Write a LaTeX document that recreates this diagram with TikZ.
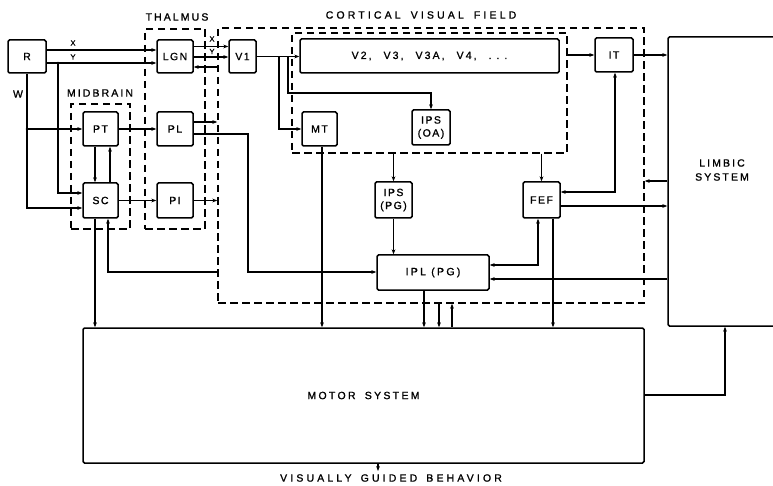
\documentclass[tikz,border=0pt]{standalone}
\usepackage{fontspec}
\setmainfont{Liberation Sans}[LetterSpace=14, FakeBold=1.2]
\usetikzlibrary{arrows.meta,calc}
\begin{document}
\begin{tikzpicture}[x=1pt,y=-1pt,
  blk/.style={draw, line width=1.5pt, rounded corners=1.5pt, inner sep=0pt, align=center,
    font=\fontsize{10.5}{13}\selectfont},
  grp/.style={draw, dash pattern=on 7.5pt off 4.5pt, line width=1.5pt, inner sep=0pt},
  con/.style={line width=1.2pt},
  arr/.style={con, -{Stealth[length=5pt,width=3.8pt]}},
  both/.style={con, {Stealth[length=5pt,width=3.8pt]}-{Stealth[length=5pt,width=3.8pt]}},
  lbl/.style={inner sep=0pt, font=\fontsize{10.5}{12}\selectfont\addfontfeature{LetterSpace=20}},
  wide/.style={inner sep=0pt, font=\fontsize{10.5}{12}\selectfont\addfontfeature{LetterSpace=30}},
  sml/.style={inner sep=0pt, font=\fontsize{7.5}{8}\selectfont},
  jdot/.style={fill, circle, inner sep=0pt, minimum size=2.8pt},
]
\useasboundingbox (0,0) rectangle (773,486);

% dashed groups
\node[grp, minimum width=60pt,  minimum height=200pt] (thal) at (175,129) {};
\node[grp, minimum width=59pt,  minimum height=125pt] (mid)  at (100.5,166.5) {};
\node[grp, minimum width=426pt, minimum height=275pt] (cvf)  at (431,165.5) {};
\node[grp, minimum width=275pt, minimum height=120pt] (inr)  at (429.5,93) {};

% group labels
\node[lbl] (thaltxt) at (177,17) {THALMUS};
\node[lbl] (midtxt)  at (100,93) {MIDBRAIN};
\node[wide] (cvftxt)  at (421,15) {CORTICAL\hspace{4pt} VISUAL\hspace{4pt} FIELD};

% blocks
\node[blk, minimum width=38pt, minimum height=33pt] (R)    at (27,56.5)  {R};
\node[blk, minimum width=36pt, minimum height=33pt] (LGN)  at (175,56.5) {LGN};
\node[blk, minimum width=27pt, minimum height=33pt] (V1)   at (242.5,56.5) {V1};
\node[blk, minimum width=259pt, minimum height=34pt, font=\fontsize{10.5}{13}\selectfont\addfontfeature{LetterSpace=20}] (V2)  at (429.5,56) {V2,\hspace{12pt}V3,\hspace{12pt}V3A,\hspace{12pt}V4,\hspace{12pt}.\hspace{5pt}.\hspace{5pt}.};
\node[blk, minimum width=38pt, minimum height=34pt] (IT)   at (614,55)   {IT};
\node[blk, minimum width=107pt, minimum height=289pt] (LIM) at (721.5,181.5) {};
\node[lbl, align=center, font=\fontsize{10.5}{14}\selectfont\addfontfeature{LetterSpace=20}] (limtxt) at (722,170) {LIMBIC\\SYSTEM};
\node[blk, minimum width=35pt, minimum height=34pt] (PT)   at (100.5,129) {PT};
\node[blk, minimum width=36pt, minimum height=34pt] (PL)   at (175,129)   {PL};
\node[blk, minimum width=35pt, minimum height=34pt] (MT)   at (319.5,129) {MT};
\node[blk, minimum width=38pt, minimum height=35pt] (IPSOA) at (431,127.5) {IPS\\(OA)};
\node[blk, minimum width=35pt, minimum height=35pt] (SC)   at (100.5,200.5) {SC};
\node[blk, minimum width=36pt, minimum height=35pt] (PI)   at (175,200.5) {PI};
\node[blk, minimum width=37pt, minimum height=36pt] (IPSPG) at (393.5,200) {IPS\\(PG)};
\node[blk, minimum width=37pt, minimum height=36pt] (FEF)  at (541.5,200) {FEF};
\node[blk, minimum width=112pt, minimum height=35pt, font=\fontsize{10.5}{13}\selectfont\addfontfeature{LetterSpace=22}] (IPL) at (433,272.5) {IPL (PG)};
\node[blk, minimum width=561pt, minimum height=135pt, font=\fontsize{10.5}{13}\selectfont\addfontfeature{LetterSpace=22}] (MOT) at (363.5,395.5) {MOTOR\hspace{4pt} SYSTEM};
\node[wide] (vgb) at (391,478) {VISUALLY\hspace{3pt} GUIDED\hspace{3pt} BEHAVIOR};

% small labels
\node[sml] (xa) at (73,43) {X};
\node[sml] (ya) at (73,57) {Y};
\node[sml] (xb) at (212,39) {X};
\node[sml] (yb) at (212,51.5) {Y};
\node[lbl] (wl) at (18,94) {W};

% coordinates
\coordinate (ybr) at (58,63);
\coordinate (wbr) at (27,129);
\coordinate (b1) at (279,56.5);
\coordinate (b2) at (288,56.5);
\coordinate (out) at (378,471);

% retina to LGN
\draw[arr] (R.east |- 0,50) -- (LGN.west |- 0,50);
\draw[arr] (R.east |- 0,63) -- (LGN.west |- 0,63);
% LGN to V1
\draw[arr] (LGN.east |- 0,46.5) -- (V1.west |- 0,46.5);
\draw[arr] (LGN.east |- 0,57) -- (V1.west |- 0,57);
\draw[arr] (cvf.west |- 0,67) -- (LGN.east |- 0,67);
% W and Y to midbrain
\draw[arr] (R.south) |- (SC.west |- 0,208);
\draw[arr] (wbr) -- (PT.west);
\draw[arr] (ybr) |- (SC.west |- 0,193);
\node[jdot] at (wbr) {};
\node[jdot] at (ybr) {};
% midbrain
\draw[arr] (PT.south -| 95,0) -- (SC.north -| 95,0);
\draw[arr] (SC.north -| 110,0) -- (PT.south -| 110,0);
\draw[arr] (PT.east) -- (PL.west);
\draw[arr] (SC.east) -- (PI.west);
\draw[arr] (SC.south -| 95,0) -- (MOT.north -| 95,0);
\draw[arr] (cvf.west |- 0,272) -| (SC.south -| 108,0);
% pulvinar
\draw[arr] (PL.east |- 0,122) -- (cvf.west |- 0,122);
\draw[arr] (PL.east |- 0,134) -| (248,272) -- (IPL.west |- 0,272);
\draw[arr] (PI.east) -- (cvf.west |- PI.east);
% V1 outputs
\draw[arr] (V1.east) -- (V2.west |- V1.east);
\draw[arr] (b1) |- (MT.west);
\draw[arr] (b2) |- (IPSOA.north |- 0,93) -- (IPSOA.north);
% cortical
\draw[arr] (inr.east |- IT.west) -- (IT.west);
\draw[arr] (IT.east) -- (LIM.west |- IT.east);
\draw[arr] (inr.south -| IPSPG.north) -- (IPSPG.north);
\draw[arr] (IPSPG.south) -- (IPL.north -| IPSPG.south);
\draw[arr] (inr.south -| FEF.north) -- (FEF.north);
\draw[both] (IT.south -| 615,0) |- (FEF.east |- 0,192);
\draw[arr] (LIM.west |- 0,181) -- (cvf.east |- 0,181);
\draw[arr] (FEF.east |- 0,206) -- (LIM.west |- 0,206);
\draw[both] (IPL.east |- 0,265) -| (FEF.south -| 538,0);
\draw[arr] (LIM.west |- 0,279) -- (IPL.east |- 0,279);
% to motor
\draw[arr] (FEF.south -| 553,0) -- (MOT.north -| 553,0);
\draw[arr] (MT.south -| 322,0) -- (MOT.north -| 322,0);
\draw[arr] (IPL.south -| 424,0) -- (MOT.north -| 424,0);
\draw[arr] (cvf.south -| 439,0) -- (MOT.north -| 439,0);
\draw[arr] (MOT.north -| 452,0) -- (cvf.south -| 452,0);
\draw[arr] (MOT.east |- 0,395) -| (LIM.south -| 725,0);
\draw[arr] (MOT.south -| 378,0) -- (out);
\end{tikzpicture}
\end{document}
